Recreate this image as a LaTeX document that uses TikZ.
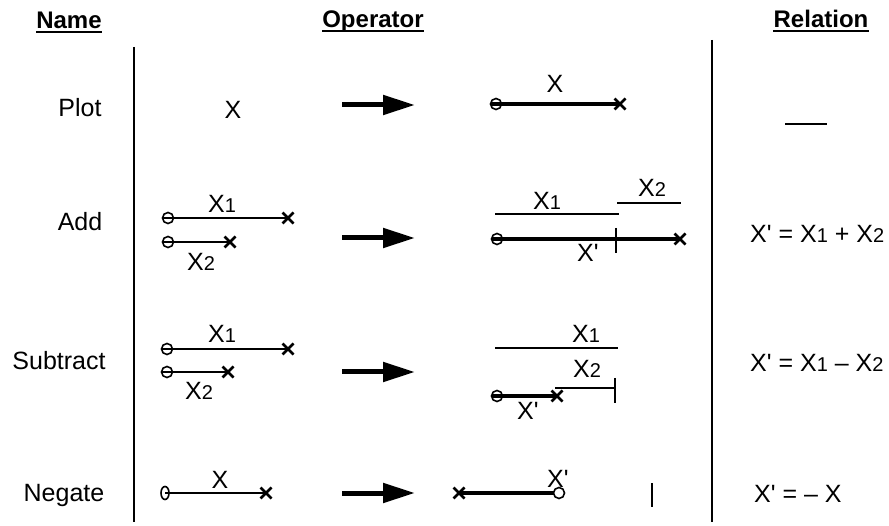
\documentclass[tikz,border=0pt]{standalone}
\usepackage{fontspec}
\setmainfont{Liberation Sans}
\usetikzlibrary{arrows.meta}
\newcommand{\qs}{\textquotesingle}
\newcommand{\sbd}[1]{{\fontsize{20}{24}\selectfont #1}}
\tikzset{
  xm/.pic={\draw[line width=2.6pt] (-5.5,-5.5) -- (5.5,5.5) (-5.5,5.5) -- (5.5,-5.5);},
  om/.pic={\draw[line width=1.6pt] (0,0) circle[radius=5.5];},
  oe/.pic={\draw[line width=1.6pt] (0,0) ellipse[x radius=4, y radius=6.5];}
}
\begin{document}
\begin{tikzpicture}[x=1pt,y=-1pt,
  txt/.style={font=\fontsize{25}{30}\selectfont, inner sep=0pt, anchor=base},
  txtw/.style={font=\fontsize{25}{30}\selectfont, inner sep=0pt, anchor=base west},
  hdr/.style={font=\fontsize{24}{29}\selectfont\bfseries, inner sep=0pt, anchor=base},
  uline/.style={line width=1.8pt},
  vin/.style={line width=1.6pt},
  vout/.style={line width=4pt},
  sepline/.style={line width=2.6pt},
  tick/.style={line width=2pt},
  bigarrow/.style={line width=5pt, -{Triangle[length=32pt,width=19pt]}},
]
\useasboundingbox (0,0) rectangle (889,526);

% headers
\node[hdr] (hname) at (69,29) {Name};
\node[hdr] (hop) at (373,28) {Operator};
\node[hdr] (hrel) at (821,28) {Relation};
\draw[uline] ([yshift=-3pt]hname.base west) -- ([yshift=-3pt]hname.base east);
\draw[uline] ([yshift=-3pt]hop.base west) -- ([yshift=-3pt]hop.base east);
\draw[uline] ([yshift=-3pt]hrel.base west) -- ([yshift=-3pt]hrel.base east);

% separators
\coordinate (s1t) at (134,47); \coordinate (s1b) at (134,522);
\coordinate (s2t) at (712,40); \coordinate (s2b) at (712,522);
\draw[sepline] (s1t) -- (s1b);
\draw[sepline] (s2t) -- (s2b);

% names
\node[txt] (nplot) at (80,117) {Plot};
\node[txt] (nadd) at (80,231) {Add};
\node[txt] (nsub) at (59,370) {Subtract};
\node[txt] (nneg) at (64,501) {Negate};

% operator arrows
\foreach \i/\yy in {1/105,2/238,3/372,4/493}{
  \coordinate (a\i s) at (342,\yy);
  \coordinate (a\i e) at (415,\yy);
  \draw[bigarrow] (a\i s) -- (a\i e);
}

% ---- Plot row
\node[txt] (plx) at (233,119) {X};
\coordinate (p1s) at (496,104); \coordinate (p1e) at (620,104);
\draw[vout] ([xshift=-5pt]p1s) -- (p1e);
\pic at (p1s) {om}; \pic at (p1e) {xm};
\node[txt] (plox) at (555,93) {X};
\coordinate (r1s) at (785,124); \coordinate (r1e) at (827,124);
\draw[line width=1.3pt] (r1s) -- (r1e);

% ---- Add row
\coordinate (ad1s) at (168,218); \coordinate (ad1e) at (288,218);
\coordinate (ad2s) at (168,242); \coordinate (ad2e) at (230,242);
\draw[vin] ([xshift=-5pt]ad1s) -- (ad1e);
\draw[vin] ([xshift=-5pt]ad2s) -- (ad2e);
\pic at (ad1s) {om}; \pic at (ad1e) {xm};
\pic at (ad2s) {om}; \pic at (ad2e) {xm};
\node[txtw] (adx1) at (208,213) {X\sbd{1}};
\node[txtw] (adx2) at (187,271) {X\sbd{2}};

\coordinate (ao1s) at (495,214); \coordinate (ao1e) at (619,214);
\coordinate (ao2s) at (617,203); \coordinate (ao2e) at (681,203);
\coordinate (aos) at (497,239); \coordinate (aoe) at (680,239);
\coordinate (aot1) at (616,228); \coordinate (aot2) at (616,253);
\draw[vin] (ao1s) -- (ao1e);
\draw[vin] (ao2s) -- (ao2e);
\draw[vout] ([xshift=-5pt]aos) -- (aoe);
\draw[tick] (aot1) -- (aot2);
\pic at (aos) {om}; \pic at (aoe) {xm};
\node[txtw] (aox1) at (533,210) {X\sbd{1}};
\node[txtw] (aox2) at (638,197) {X\sbd{2}};
\node[txtw] (aoxp) at (577,262) {X\qs};
\node[txtw] (radd) at (750,243) {X\qs{} = X\sbd{1} + X\sbd{2}};

% ---- Subtract row
\coordinate (sb1s) at (167,349); \coordinate (sb1e) at (288,349);
\coordinate (sb2s) at (167,372); \coordinate (sb2e) at (228,372);
\draw[vin] ([xshift=-5pt]sb1s) -- (sb1e);
\draw[vin] ([xshift=-5pt]sb2s) -- (sb2e);
\pic at (sb1s) {om}; \pic at (sb1e) {xm};
\pic at (sb2s) {om}; \pic at (sb2e) {xm};
\node[txtw] (sbx1) at (208,343) {X\sbd{1}};
\node[txtw] (sbx2) at (185,400) {X\sbd{2}};

\coordinate (so1s) at (495,348); \coordinate (so1e) at (618,348);
\coordinate (so2s) at (555,388); \coordinate (so2e) at (615,388);
\coordinate (sot1) at (615,378); \coordinate (sot2) at (615,403);
\coordinate (sos) at (497,396); \coordinate (soe) at (557,396);
\draw[vin] (so1s) -- (so1e);
\draw[vin] (so2s) -- (so2e);
\draw[tick] (sot1) -- (sot2);
\draw[vout] ([xshift=-5pt]sos) -- (soe);
\pic at (sos) {om}; \pic at (soe) {xm};
\node[txtw] (sox1) at (572,343) {X\sbd{1}};
\node[txtw] (sox2) at (573,378) {X\sbd{2}};
\node[txtw] (soxp) at (517,420) {X\qs};
\node[txtw] (rsub) at (750,372) {X\qs{} = X\sbd{1} -- X\sbd{2}};

% ---- Negate row
\coordinate (ngs) at (165,493); \coordinate (nge) at (266,493);
\draw[vin] (ngs) -- (nge);
\pic at (ngs) {oe}; \pic at (nge) {xm};
\node[txt] (ngx) at (220,488) {X};

\coordinate (nos) at (459,493); \coordinate (noe) at (559,493);
\draw[vout] (nos) -- ([xshift=-5pt]noe);
\pic at (nos) {xm}; \pic at (noe) {om};
\coordinate (not1) at (652,483); \coordinate (not2) at (652,507);
\draw[tick] (not1) -- (not2);
\node[txtw] (noxp) at (547,487) {X\qs};
\node[txtw] (rneg) at (754,502) {X\qs{} = -- X};
\end{tikzpicture}
\end{document}
